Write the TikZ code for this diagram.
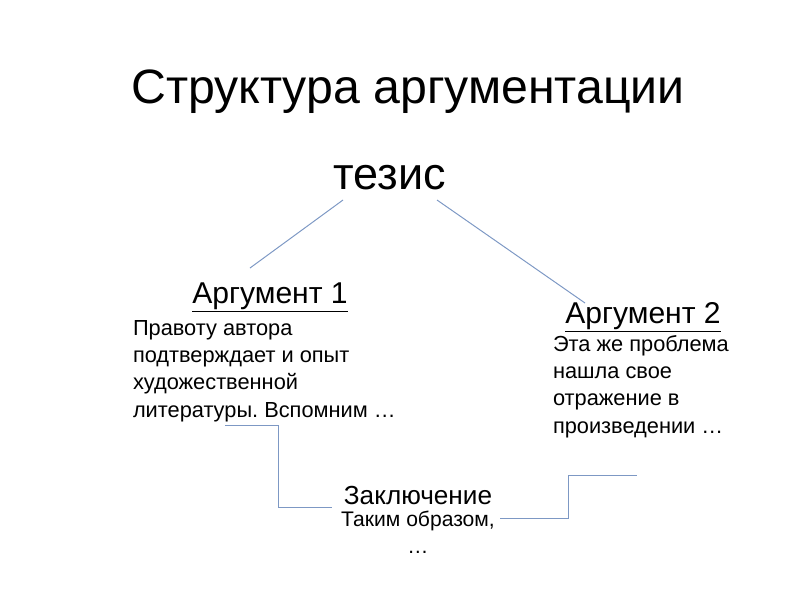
\documentclass[tikz,border=0pt]{standalone}
\usepackage{fontspec}
\setmainfont{Liberation Sans}
\frenchspacing
\definecolor{linkblue}{RGB}{125,152,196}
\tikzset{
  link/.style={draw=linkblue, line width=0.7pt},
  txt/.style={inner sep=0pt, outer sep=0pt},
  bodytext/.style={txt, align=left, anchor=base west, font=\fontsize{15.5}{19.3}\selectfont}
}

\begin{document}
\begin{tikzpicture}[x=0.025cm, y=-0.025cm]
    \useasboundingbox (0,0) rectangle (800,600);
    \path (408, 103) node[txt, anchor=base, font=\fontsize{34.3}{40}\selectfont] (title) {Структура аргументации}
          (390, 189) node[txt, anchor=base, font=\fontsize{32}{36}\selectfont] (thesis) {тезис}
          (270, 303) node[txt, anchor=base, font=\fontsize{21.4}{24}\selectfont] (arg1) {\underline{Аргумент 1}}
          (643, 323) node[txt, anchor=base, font=\fontsize{21.4}{24}\selectfont] (arg2) {\underline{Аргумент 2}}
          (133, 417) node[bodytext] (arg1text) {Правоту автора\\подтверждает и опыт\\художественной\\литературы. Вспомним \dots}
          (553, 433) node[bodytext] (arg2text) {Эта же проблема\\нашла свое\\отражение в\\произведении \dots}
          (418, 504) node[txt, anchor=base, font=\fontsize{18.6}{23}\selectfont] (concl) {Заключение}
          (418, 553) node[txt, anchor=base, align=center, font=\fontsize{15}{18.5}\selectfont] (concltext) {Таким образом,\\\dots};
    \coordinate (t1) at (343, 200);
    \coordinate (a1) at (250, 268);
    \coordinate (t2) at (437, 200);
    \coordinate (a2) at (585, 303);
    \draw[link] (t1) -- (a1);
    \draw[link] (t2) -- (a2);
    \coordinate (l1) at (225, 425);
    \coordinate (l2) at (332, 507);
    \draw[link] (l1) -| (278, 507) -- (l2);
    \coordinate (r1) at (500, 518);
    \coordinate (r2) at (637, 475);
    \draw[link] (r1) -- (568, 518) |- (r2);
\end{tikzpicture}
\end{document}
